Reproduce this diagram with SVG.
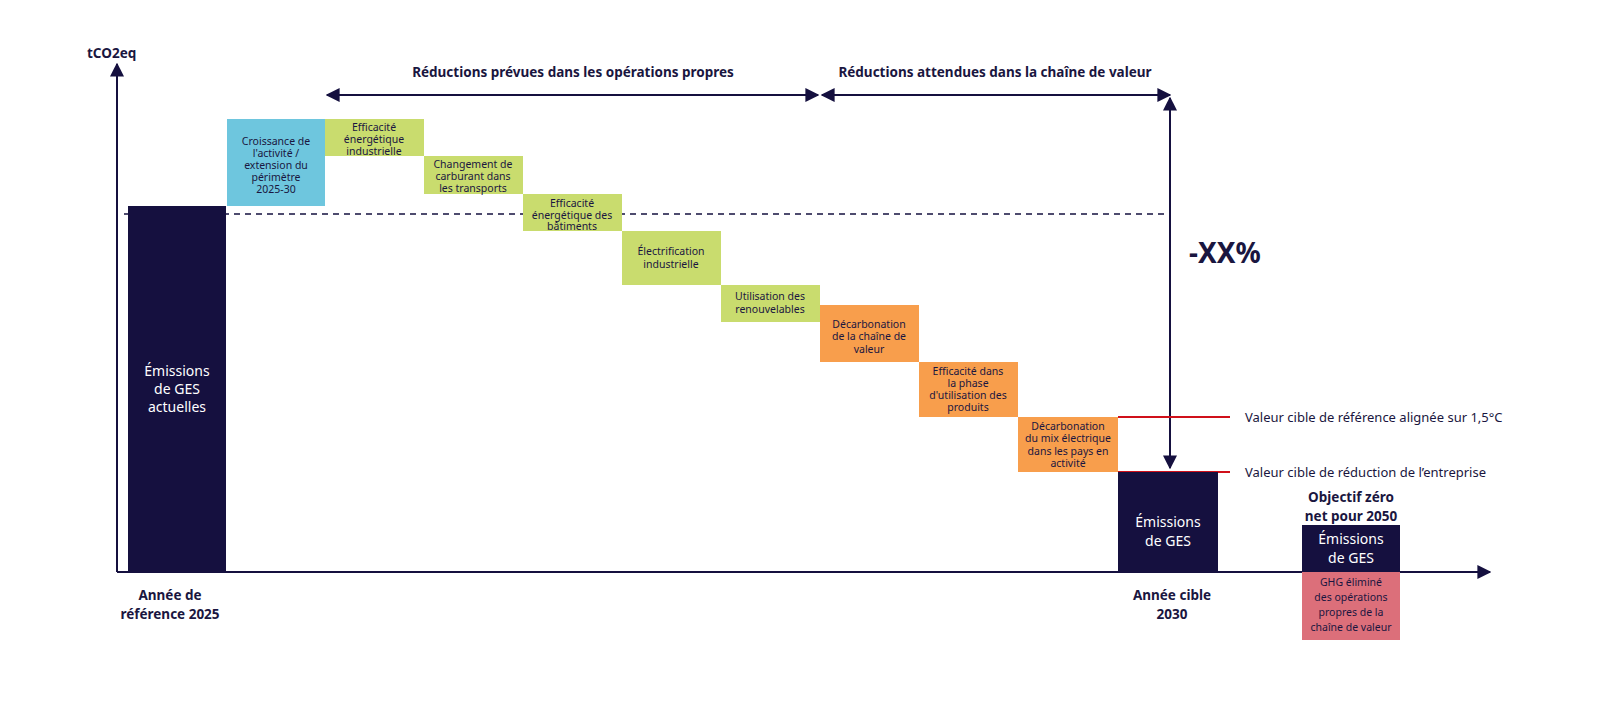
<svg xmlns="http://www.w3.org/2000/svg" width="1600" height="705" viewBox="0 0 1600 705">
<style>
text{font-family:"Noto Sans","Liberation Sans",sans-serif;fill:#1a1640}
.s{font-size:10.5px;text-anchor:middle}
.w{fill:#fff;font-size:14px;text-anchor:middle}
.b{font-weight:bold;font-size:13.5px}
.c{text-anchor:middle}
.l{font-size:13px}
.ax{stroke:#15103f;stroke-width:2;fill:none}
.g{fill:#c9dc6e}.o{fill:#f89e4c}.n{fill:#15103f}
</style>
<defs>
<marker id="a" viewBox="0 0 10 10" refX="9" refY="5" markerWidth="7" markerHeight="7" orient="auto-start-reverse"><path d="M0,0L10,5L0,10z" fill="#15103f"/></marker>
</defs>
<g id="connectors">
<line class="ax" x1="117" y1="572" x2="117" y2="64" marker-end="url(#a)"/>
<line class="ax" x1="117" y1="572" x2="1490" y2="572" marker-end="url(#a)"/>
<line x1="124" y1="214" x2="1170" y2="214" stroke="#15103f" stroke-width="1.3" stroke-dasharray="6,5"/>
<line class="ax" x1="327" y1="95" x2="818" y2="95" marker-start="url(#a)" marker-end="url(#a)"/>
<line class="ax" x1="822" y1="95" x2="1170" y2="95" marker-start="url(#a)" marker-end="url(#a)"/>
<line class="ax" x1="1170" y1="98" x2="1170" y2="468" marker-start="url(#a)" marker-end="url(#a)"/>
<line x1="1118" y1="417" x2="1230" y2="417" stroke="#d0101a" stroke-width="2"/>
<line x1="1118" y1="472" x2="1230" y2="472" stroke="#d0101a" stroke-width="2"/>
</g>
<g id="base"><rect class="n" x="128" y="206" width="98" height="366"/><text class="w" x="177" y="376">Émissions</text><text class="w" x="177" y="394">de GES</text><text class="w" x="177" y="412">actuelles</text></g>
<g id="growth"><rect fill="#6ec6de" x="227" y="119" width="98" height="87"/><text class="s" x="276" y="145">Croissance de</text><text class="s" x="276" y="157">l'activité /</text><text class="s" x="276" y="169">extension du</text><text class="s" x="276" y="181">périmètre</text><text class="s" x="276" y="193">2025-30</text></g>
<g id="g1"><rect class="g" x="325" y="119" width="99" height="37"/><text class="s" x="374" y="131">Efficacité</text><text class="s" x="374" y="143">énergétique</text><text class="s" x="374" y="155">industrielle</text></g>
<g id="g2"><rect class="g" x="424" y="156" width="99" height="38"/><text class="s" x="473" y="168">Changement de</text><text class="s" x="473" y="180">carburant dans</text><text class="s" x="473" y="192">les transports</text></g>
<g id="g3"><rect class="g" x="523" y="194" width="99" height="37"/><text class="s" x="572" y="207">Efficacité</text><text class="s" x="572" y="219">énergétique des</text><text class="s" x="572" y="230">bâtiments</text></g>
<g id="g4"><rect class="g" x="622" y="231" width="99" height="54"/><text class="s" x="671" y="255">Électrification</text><text class="s" x="671" y="268">industrielle</text></g>
<g id="g5"><rect class="g" x="721" y="285" width="99" height="37"/><text class="s" x="770" y="300">Utilisation des</text><text class="s" x="770" y="313">renouvelables</text></g>
<g id="o1"><rect class="o" x="820" y="305" width="99" height="57"/><text class="s" x="869" y="328">Décarbonation</text><text class="s" x="869" y="340">de la chaîne de</text><text class="s" x="869" y="353">valeur</text></g>
<g id="o2"><rect class="o" x="919" y="362" width="99" height="55"/><text class="s" x="968" y="375">Efficacité dans</text><text class="s" x="968" y="387">la phase</text><text class="s" x="968" y="399">d'utilisation des</text><text class="s" x="968" y="411">produits</text></g>
<g id="o3"><rect class="o" x="1018" y="417" width="100" height="55"/><text class="s" x="1068" y="430">Décarbonation</text><text class="s" x="1068" y="442">du mix électrique</text><text class="s" x="1068" y="455">dans les pays en</text><text class="s" x="1068" y="467">activité</text></g>
<g id="target"><rect class="n" x="1118" y="472" width="100" height="100"/><text class="w" x="1168" y="527">Émissions</text><text class="w" x="1168" y="546">de GES</text></g>
<g id="netzero"><rect class="n" x="1302" y="525" width="98" height="47"/><text class="w" x="1351" y="544">Émissions</text><text class="w" x="1351" y="563">de GES</text>
<rect fill="#dc6f7a" x="1302" y="572" width="98" height="68"/><text class="s" x="1351" y="586">GHG éliminé</text><text class="s" x="1351" y="601">des opérations</text><text class="s" x="1351" y="616">propres de la</text><text class="s" x="1351" y="631">chaîne de valeur</text></g>
<g id="labels">
<text class="b" x="87" y="58">tCO2eq</text>
<text class="b c" x="170" y="600">Année de</text><text class="b c" x="170" y="619">référence 2025</text>
<text class="b c" x="1172" y="600">Année cible</text><text class="b c" x="1172" y="619">2030</text>
<text class="b c" x="1351" y="502">Objectif zéro</text><text class="b c" x="1351" y="521">net pour 2050</text>
<text class="b c" x="573" y="77">Réductions prévues dans les opérations propres</text>
<text class="b c" x="995" y="77">Réductions attendues dans la chaîne de valeur</text>
<text x="1189" y="263" font-size="28" font-weight="bold">-XX%</text>
<text class="l" x="1245" y="422">Valeur cible de référence alignée sur 1,5°C</text>
<text class="l" x="1245" y="477">Valeur cible de réduction de l’entreprise</text>
</g>
</svg>
